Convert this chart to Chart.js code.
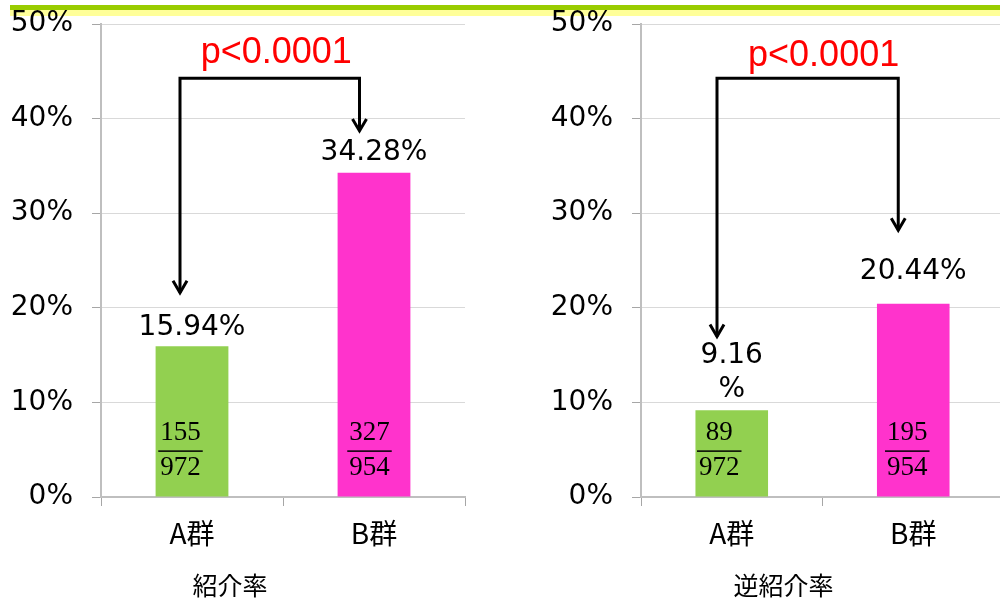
<!DOCTYPE html>
<html><head><meta charset="utf-8">
<script src="https://cdn.jsdelivr.net/npm/chart.js@4.4.1/dist/chart.umd.min.js"></script>
<style>
html,body{margin:0;padding:0;background:#fff;width:1000px;height:598px;overflow:hidden;position:relative}
.band{position:absolute;left:10px;width:990px}
#bandGreen{top:5px;height:5px;background:#99CC00}
#bandYellow{top:10px;height:6px;background:#FFFF99}
canvas{position:absolute;top:0}
#referral{left:0}
#reverse{left:540px}
</style></head><body>
<div class="band" id="bandYellow"></div><div class="band" id="bandGreen"></div>
<canvas id="referral" width="480" height="598"></canvas>
<canvas id="reverse" width="470" height="598"></canvas>
<script>
// Groups and y-axis ticks (percent)
const groups = ['A群', 'B群'];
const yTicks = [0, 10, 20, 30, 40, 50];

// 紹介率
const referralRate = [15.94, 34.28];
const referralNum = [155, 327];
const referralDen = [972, 954];

// 逆紹介率
const reverseRate = [9.16, 20.44];
const reverseNum = [89, 195];
const reverseDen = [972, 954];

const pLabel = 'p<0.0001';
const barColors = ['#92D050', '#FF33CC'];

// Value labels, fractions inside bars, significance bracket and bottom caption
const decor = {
  id: 'decor',
  afterDatasetsDraw(chart, args, o) {
    const ctx = chart.ctx;
    const ys = chart.scales.y;
    const bars = chart.getDatasetMeta(0).data;
    const vals = chart.data.datasets[0].data;
    ctx.save();

    // value labels above bars
    ctx.fillStyle = '#000';
    ctx.font = '28px "DejaVu Sans"';
    ctx.textAlign = 'center';
    ctx.textBaseline = 'alphabetic';
    bars.forEach((b, i) => {
      const txt = vals[i].toFixed(2);
      const lines = o.wrap[i] ? [txt, '%'] : [txt + '%'];
      lines.forEach((ln, k) => {
        const y = b.y - o.labelGap[i] - (lines.length - 1 - k) * 34;
        ctx.fillText(ln, b.x, y);
      });
    });

    // fractions inside bars
    ctx.font = '27px "Liberation Serif"';
    const yLine = ys.getPixelForValue(o.fracAt);
    bars.forEach((b, i) => {
      const cx = b.x + o.fracDx[i];
      const n = String(o.num[i]), d = String(o.den[i]);
      const w = Math.max(ctx.measureText(n).width, ctx.measureText(d).width) + 4;
      ctx.fillText(n, cx, yLine - 11);
      ctx.fillText(d, cx, yLine + 24);
      ctx.fillRect(cx - w / 2, yLine - 0.75, w, 1.5);
    });

    // bracket with arrows
    const yTop = ys.getPixelForValue(o.bracketTop);
    const xs = bars.map((b, i) => b.x + o.bracketDx[i]);
    const tips = o.tips.map(v => ys.getPixelForValue(v));
    ctx.strokeStyle = '#000';
    ctx.lineWidth = 3;
    ctx.lineJoin = 'miter';
    ctx.beginPath();
    ctx.moveTo(xs[0], tips[0]);
    ctx.lineTo(xs[0], yTop);
    ctx.lineTo(xs[1], yTop);
    ctx.lineTo(xs[1], tips[1]);
    ctx.stroke();
    xs.forEach((x, i) => {
      ctx.beginPath();
      ctx.moveTo(x - 7, tips[i] - 12);
      ctx.lineTo(x, tips[i]);
      ctx.lineTo(x + 7, tips[i] - 12);
      ctx.stroke();
    });

    // p-value
    ctx.fillStyle = '#FF0000';
    ctx.font = '36px "Liberation Sans"';
    ctx.fillText(pLabel, (xs[0] + xs[1]) / 2 + o.textDx, yTop - o.textGap);

    // caption under the axis
    ctx.fillStyle = '#000';
    ctx.font = '25px "Noto Sans CJK JP"';
    ctx.textBaseline = 'middle';
    ctx.fillText(o.title, o.titleX, 585);
    ctx.restore();
  }
};

function makeChart(id, values, opts, padRight) {
  return new Chart(document.getElementById(id), {
    type: 'bar',
    data: {
      labels: groups,
      datasets: [{ data: values, backgroundColor: barColors, borderWidth: 0,
                   barPercentage: 0.4, categoryPercentage: 1 }]
    },
    options: {
      responsive: false,
      animation: false,
      layout: { padding: { top: 24, right: padRight, bottom: 0, left: 0 } },
      plugins: { legend: { display: false }, tooltip: { enabled: false }, decor: opts },
      scales: {
        x: {
          grid: { offset: true, drawOnChartArea: false, tickLength: 9, tickColor: '#A6A6A6' },
          border: { color: '#BFBFBF', width: 2 },
          ticks: { color: '#000', font: { family: '"Noto Sans CJK JP"', size: 28 }, padding: 11 },
          afterFit(s) { s.height = 101; s.paddingLeft = 0; s.paddingRight = 0; }
        },
        y: {
          min: 0, max: 50,
          afterBuildTicks(s) { s.ticks = yTicks.map(v => ({ value: v })); },
          ticks: { callback: v => v + '%', color: '#000', font: { family: '"DejaVu Sans"', size: 28 }, padding: 19 },
          grid: { color: '#D9D9D9', tickLength: 9, tickColor: '#A6A6A6', lineWidth: 1 },
          border: { color: '#BFBFBF', width: 2 },
          afterFit(s) { s.width = 101; s.paddingTop = 0; s.paddingBottom = 0; }
        }
      }
    },
    plugins: [decor]
  });
}

makeChart('referral', referralRate, {
  title: '紹介率', titleX: 230,
  num: referralNum, den: referralDen,
  wrap: [false, false], labelGap: [11, 13],
  fracAt: 4.85, fracDx: [-11.5, -4.5],
  bracketTop: 44.26, tips: [21.6, 38.7], bracketDx: [-12, -14.5],
  textDx: 6.5, textGap: 15
}, 15);

makeChart('reverse', reverseRate, {
  title: '逆紹介率', titleX: 243.5,
  num: reverseNum, den: reverseDen,
  wrap: [true, false], labelGap: [13.5, 24.5],
  fracAt: 4.85, fracDx: [-12.5, -6],
  bracketTop: 44.26, tips: [16.97, 28.2], bracketDx: [-14.75, -15],
  textDx: 16, textGap: 12
}, 6);
</script>
</body></html>
